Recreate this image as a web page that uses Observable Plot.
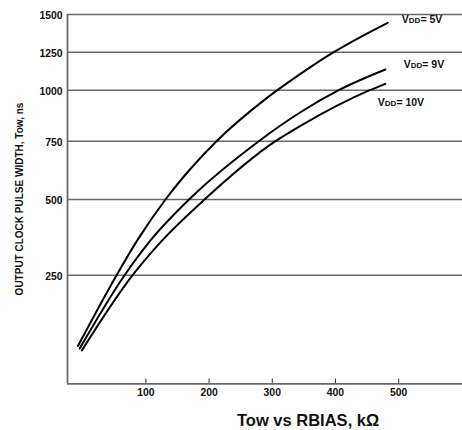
<!DOCTYPE html>
<html>
<head>
<meta charset="utf-8">
<script src="https://cdn.jsdelivr.net/npm/d3@7"></script>
<script src="https://cdn.jsdelivr.net/npm/@observablehq/plot@0.6"></script>
<style>
  body { margin: 0; background: #fff; font-family: "Liberation Sans", Arial, sans-serif; }
  #chart svg { display: block; }
  #title { margin-top: 10px; padding-left: 237px; font-size: 16.5px; font-weight: bold; line-height: 20px; color: #111; }
</style>
</head>
<body>
<div id="chart"></div>
<div id="title">Tow vs RBIAS, kΩ</div>
<script>
// Series: RBIAS (kΩ) vs Tow (ns)
const rbias5V  = [-7.5, 53.7, 86.4, 131, 170.7, 211.8, 286.6, 344.6, 397.2, 482.6];
const tow5V    = [87, 250, 365, 500, 632, 750, 950, 1107, 1250, 1445];
const rbias9V  = [-4.8, 66.3, 107.4, 168.3, 278.7, 313, 344.6, 405.1, 479];
const tow9V    = [81, 250, 365, 500, 750, 827, 892, 1000, 1136];
const rbias10V = [-1.2, 79, 125.9, 192.8, 305, 344.6, 454.2, 479];
const tow10V   = [77, 250, 365, 500, 750, 825, 1000, 1042];

const seriesNames = ["VDD= 5V", "VDD= 9V", "VDD= 10V"];
const labelX = [505, 508, 467];
const labelY = [1468, 1167, 939];

const xTicks = [100, 200, 300, 400, 500];
const yTicks = [250, 500, 750, 1000, 1250, 1500];
const yLabel = "OUTPUT CLOCK PULSE WIDTH, Tow, ns";

const rows = [];
[[rbias5V, tow5V], [rbias9V, tow9V], [rbias10V, tow10V]].forEach(([xs, ys], i) => {
  xs.forEach((x, j) => rows.push({series: seriesNames[i], x, y: ys[j]}));
});
const labels = seriesNames.map((s, i) => ({text: s, x: labelX[i], y: labelY[i]}));

const gridColor = "#6a6a6a";
const font = "Liberation Sans, Arial, sans-serif";

const plot = Plot.plot({
  width: 462,
  height: 400,
  marginLeft: 67,
  marginRight: 0,
  marginTop: 14,
  marginBottom: 17,
  style: {fontFamily: font, color: "#111", background: "#fff"},
  x: {domain: [-24, 601]},
  y: {type: "linear", domain: [0, 250, 500, 750, 1000, 1250, 1500], range: [383.3, 274.7, 199, 140.7, 89.7, 51.7, 14]},
  marks: [
    Plot.gridY(yTicks, {stroke: gridColor, strokeOpacity: 1, strokeWidth: 1.6}),
    Plot.ruleY([0], {stroke: gridColor, strokeWidth: 1.8}),
    Plot.ruleX([-24], {stroke: gridColor, strokeWidth: 1.8}),
    Plot.ruleX(xTicks, {x: d => d, stroke: "#333", strokeWidth: 1, insetTop: 364.5}),
    Plot.axisY(yTicks, {tickSize: 0, tickPadding: 5, fontSize: 10.4, fontWeight: "bold", dy: 1, label: null, tickFormat: d => String(d)}),
    Plot.axisX(xTicks, {tickSize: 0, tickPadding: 5, fontSize: 10.4, fontWeight: "bold", label: null, tickFormat: d => String(d)}),
    Plot.text([yLabel], {text: d => d, frameAnchor: "left", rotate: -90, dx: -48, fontSize: 10, fontWeight: "bold", textAnchor: "middle", lineAnchor: "middle"}),
    Plot.line(rows, {x: "x", y: "y", z: "series", stroke: "#000", strokeWidth: 2, curve: "monotone-x"}),
    Plot.text(labels, {x: "x", y: "y", text: "text", textAnchor: "start", lineAnchor: "middle", fontSize: 10.5, fontWeight: "bold", fill: "#111"})
  ]
});
document.getElementById("chart").appendChild(plot);

// Render "DD" smaller inside VDD labels
d3.select(plot).selectAll("text").each(function() {
  const t = this.textContent;
  if (t.startsWith("VDD")) {
    const el = d3.select(this);
    el.text(null);
    el.append("tspan").text("V");
    el.append("tspan").attr("font-size", 8).text("DD");
    el.append("tspan").text(t.slice(3));
  }
});
</script>
</body>
</html>
